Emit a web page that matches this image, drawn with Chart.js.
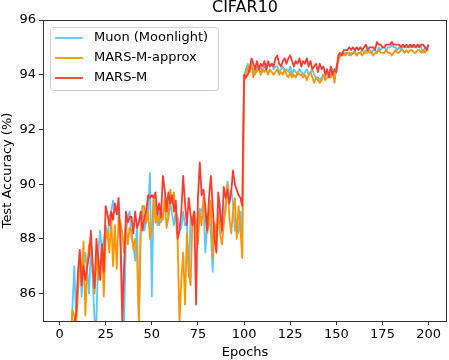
<!DOCTYPE html>
<html>
<head>
<meta charset="utf-8">
<script src="https://cdn.jsdelivr.net/npm/chart.js@4/dist/chart.umd.min.js"></script>
<style>
  html, body { margin: 0; padding: 0; background: #fff; }
  canvas { display: block; }
</style>
</head>
<body>
<canvas id="myChart" width="449" height="360"></canvas>
<script>
// test accuracy per epoch (1..200)
const muon = [
  72.0, 77.5, 80.0, 81.8, 83.0, 84.1, 85.5, 87.0, 85.0, 86.5,
  87.2, 85.9, 86.9, 87.5, 86.8, 86.0, 87.8, 86.5, 85.0, 85.0,
  87.5, 88.3, 87.5, 88.0, 88.5, 88.0, 88.8, 89.0, 89.4, 89.0,
  89.2, 88.8, 88.0, 86.3, 84.9, 88.2, 88.8, 89.0, 88.0, 87.8,
  87.2, 88.6, 85.0, 88.5, 89.2, 88.3, 88.7, 89.0, 90.4, 85.9,
  89.6, 89.2, 88.5, 89.0, 88.6, 88.9, 89.2, 89.5, 88.8, 89.3,
  88.9, 88.5, 89.0, 88.8, 88.3, 88.4, 89.0, 88.5, 88.6, 86.6,
  88.7, 88.8, 89.0, 88.5, 88.7, 89.1, 89.0, 89.3, 87.5, 88.5,
  89.0, 88.2, 86.8, 88.5, 88.0, 88.7, 89.3, 88.2, 88.7, 89.0,
  90.1, 89.5, 89.8, 89.3, 88.3, 88.5, 88.2, 89.0, 87.8, 93.9,
  94.2, 94.4, 94.1, 94.3, 94.2, 94.0, 94.3, 94.2, 94.3, 94.1,
  94.3, 94.2, 94.4, 94.3, 94.4, 94.2, 94.3, 94.3, 94.1, 94.2,
  94.3, 94.1, 94.2, 94.1, 94.3, 94.0, 94.2, 94.1, 94.0, 94.2,
  94.1, 94.0, 94.1, 94.2, 94.0, 94.1, 94.2, 94.0, 93.9, 93.9,
  93.8, 93.9, 94.0, 93.9, 94.1, 94.0, 94.0, 94.2, 94.0, 94.1,
  94.5, 94.7, 94.8, 94.7, 94.8, 94.8, 94.7, 94.8, 94.8, 94.9,
  94.7, 94.8, 94.8, 94.9, 94.8, 94.9, 94.8, 94.9, 94.8, 94.9,
  94.9, 94.8, 95.0, 94.9, 95.0, 95.0, 94.9, 95.0, 95.0, 95.1,
  95.0, 95.0, 94.9, 95.0, 94.9, 95.0, 95.0, 95.0, 95.0, 95.0,
  95.1, 95.0, 95.0, 95.0, 95.1, 95.0, 94.8, 95.0, 95.0, 95.1
];
const marsApprox = [
  71.0, 76.8, 79.5, 81.5, 82.8, 84.0, 85.4, 85.2, 84.8, 86.0,
  87.5, 86.5, 87.9, 85.2, 87.0, 87.8, 87.9, 87.0, 86.0, 87.5,
  86.5, 87.0, 87.8, 85.9, 88.0, 88.3, 87.5, 88.8, 87.0, 88.5,
  86.9, 88.8, 88.6, 88.2, 87.5, 88.5, 87.8, 88.4, 88.3, 87.6,
  88.0, 87.5, 84.9, 88.3, 89.2, 89.2, 88.6, 89.0, 88.0, 88.3,
  89.5, 88.6, 88.9, 88.5, 89.0, 88.7, 89.5, 88.4, 88.8, 89.8,
  89.3, 89.7, 88.8, 88.0, 84.9, 86.5, 87.5, 85.6, 88.2, 86.8,
  86.3, 88.7, 89.0, 88.4, 87.8, 89.0, 88.5, 89.5, 88.9, 88.2,
  88.6, 89.4, 87.3, 88.6, 87.8, 89.0, 88.2, 87.8, 88.5, 89.3,
  90.0, 88.8, 88.2, 89.0, 89.5, 88.0, 89.2, 88.4, 87.3, 93.7,
  94.0, 94.3, 94.1, 94.4, 93.9, 94.2, 94.1, 94.3, 94.0, 94.2,
  94.1, 94.2, 94.0, 94.2, 94.1, 94.0, 94.1, 94.2, 94.0, 94.1,
  94.0, 94.2, 94.0, 93.9, 94.1, 93.9, 94.0, 93.9, 94.1, 94.0,
  94.0, 93.9, 94.0, 93.8, 94.0, 94.1, 93.9, 93.7, 93.9, 93.8,
  93.7, 93.8, 94.0, 93.8, 93.9, 94.0, 93.9, 94.1, 93.7, 94.3,
  94.5, 94.7, 94.7, 94.8, 94.7, 94.8, 94.8, 94.7, 94.8, 94.8,
  94.7, 94.8, 94.8, 94.7, 94.8, 94.8, 94.9, 94.8, 94.8, 94.7,
  94.8, 94.8, 94.9, 94.8, 94.8, 94.8, 94.9, 94.8, 94.8, 94.7,
  94.8, 94.9, 94.8, 94.8, 94.9, 94.9, 94.8, 94.9, 94.8, 94.9,
  94.9, 94.8, 94.8, 94.9, 94.9, 94.8, 94.9, 94.8, 94.9, 94.9
];
const marsM = [
  70.5, 76.0, 79.2, 81.0, 82.5, 83.6, 84.5, 85.0, 85.2, 86.8,
  87.6, 86.3, 87.0, 86.5, 87.0, 87.4, 88.3, 87.0, 86.2, 88.0,
  87.3, 86.5, 87.8, 86.8, 89.2, 88.9, 88.5, 89.0, 88.7, 89.3,
  88.9, 89.5, 88.0, 85.0, 87.0, 89.0, 88.6, 88.8, 88.8, 88.2,
  89.0, 88.4, 88.6, 89.0, 88.3, 88.8, 89.0, 89.6, 89.5, 89.6,
  89.5, 89.7, 88.9, 89.3, 88.8, 90.3, 89.8, 89.0, 89.7, 89.3,
  89.6, 89.0, 89.4, 88.0, 88.3, 89.0, 90.3, 89.3, 88.5, 89.5,
  88.9, 88.5, 89.0, 85.6, 89.5, 90.8, 89.6, 89.8, 89.2, 88.3,
  89.5, 90.3, 89.2, 88.0, 87.5, 89.7, 89.0, 88.3, 89.9, 89.5,
  89.8, 89.3, 89.7, 90.5, 90.0, 89.8, 89.6, 89.5, 89.2, 94.0,
  93.9, 94.0, 94.2, 94.6, 94.4, 94.2, 94.5, 94.2, 94.4, 94.3,
  94.5, 94.2, 94.5, 94.3, 94.4, 94.3, 94.6, 94.7, 94.4, 94.3,
  94.5, 94.6, 94.4, 94.6, 94.7, 94.5, 94.3, 94.5, 94.4, 94.6,
  94.3, 94.5, 94.4, 94.6, 94.3, 94.5, 94.2, 94.3, 94.4, 94.1,
  94.4, 94.2, 94.3, 94.0, 94.2, 93.9, 94.3, 94.0, 94.2, 94.1,
  94.7, 94.8, 94.7, 94.9, 94.9, 94.9, 95.0, 94.9, 95.0, 94.9,
  95.0, 94.9, 95.0, 94.9, 95.0, 95.1, 94.9, 95.0, 95.0, 95.0,
  94.9, 95.2, 95.1, 95.1, 95.0, 95.0, 95.1, 95.1, 95.1, 95.2,
  95.1, 95.1, 95.1, 95.1, 95.0, 95.1, 95.0, 95.1, 95.0, 95.1,
  95.0, 95.1, 95.0, 95.1, 95.0, 95.1, 95.1, 95.0, 94.9, 95.1
];
const epochs = muon.map((v, i) => i + 1);

const xTicks = [0, 25, 50, 75, 100, 125, 150, 175, 200];
const yTicks = [86, 88, 90, 92, 94, 96];

const seriesNames = ['Muon (Moonlight)', 'MARS-M-approx', 'MARS-M'];
const seriesColors = ['#5ac8fa', '#ff9500', '#ff3b30'];
const seriesValues = [muon, marsApprox, marsM];

const FONT = "'DejaVu Sans', sans-serif";

const toPoints = (vals) => vals.map((v, i) => ({x: epochs[i], y: v}));

// frame, title and legend drawn like matplotlib
const decorations = {
    id: 'decorations',
    afterDraw(chart) {
        const ctx = chart.ctx;
        const a = chart.chartArea;
        ctx.save();
        ctx.strokeStyle = '#333';
        ctx.lineWidth = 1;
        ctx.strokeRect(Math.round(a.left) + 0.5, Math.round(a.top) + 0.5,
            Math.round(a.right - a.left) - 1, Math.round(a.bottom - a.top));

        ctx.fillStyle = '#000';
        ctx.font = '16px ' + FONT;
        ctx.textAlign = 'center';
        ctx.textBaseline = 'middle';
        ctx.fillText('CIFAR10', (a.left + a.right) / 2, 8);

        // legend
        const bx = 50.5, by = 27.5, bw = 168, bh = 63;
        ctx.fillStyle = 'rgba(255,255,255,0.8)';
        ctx.strokeStyle = '#d0d0d0';
        ctx.beginPath();
        ctx.roundRect(bx, by, bw, bh, 3);
        ctx.fill();
        ctx.stroke();
        ctx.font = '13px ' + FONT;
        ctx.textAlign = 'left';
        for (let i = 0; i < seriesNames.length; i++) {
            const y = 38 + i * 20;
            ctx.strokeStyle = seriesColors[i];
            ctx.lineWidth = 1.8;
            ctx.beginPath();
            ctx.moveTo(55, y);
            ctx.lineTo(83, y);
            ctx.stroke();
            ctx.fillStyle = '#000';
            ctx.fillText(seriesNames[i], 94, y);
        }
        ctx.restore();
    }
};

new Chart(document.getElementById('myChart'), {
    type: 'line',
    data: {
        datasets: seriesValues.map((vals, i) => ({
            label: seriesNames[i],
            data: toPoints(vals),
            borderColor: seriesColors[i],
            backgroundColor: seriesColors[i],
            borderWidth: 1.8,
            pointRadius: 0,
            tension: 0,
            borderJoinStyle: 'round',
            order: seriesNames.length - i
        }))
    },
    options: {
        responsive: false,
        animation: false,
        devicePixelRatio: 1,
        layout: {padding: {left: 0, right: 2, top: 20, bottom: 0}},
        plugins: {
            legend: {display: false},
            title: {display: false},
            tooltip: {enabled: false}
        },
        scales: {
            x: {
                type: 'linear',
                min: -8.95,
                max: 209.95,
                afterBuildTicks: (scale) => { scale.ticks = xTicks.map(v => ({value: v})); },
                afterFit: (scale) => { scale.height = 39; },
                grid: {drawOnChartArea: false, drawTicks: true, tickLength: 4, color: '#333'},
                border: {display: false},
                ticks: {font: {family: FONT, size: 13}, color: '#000', padding: 2, maxRotation: 0},
                title: {display: true, text: 'Epochs', font: {family: FONT, size: 13}, color: '#000', padding: {top: 0, bottom: 0}}
            },
            y: {
                min: 85,
                max: 96,
                afterBuildTicks: (scale) => { scale.ticks = yTicks.map(v => ({value: v})); },
                afterFit: (scale) => { scale.width = 43; },
                grid: {drawOnChartArea: false, drawTicks: true, tickLength: 4, color: '#333'},
                border: {display: false},
                ticks: {font: {family: FONT, size: 13}, color: '#000', padding: 3},
                title: {display: true, text: 'Test Accuracy (%)', font: {family: FONT, size: 13}, color: '#000', padding: {top: 0, bottom: 0}}
            }
        }
    },
    plugins: [decorations]
});
</script>
</body>
</html>
